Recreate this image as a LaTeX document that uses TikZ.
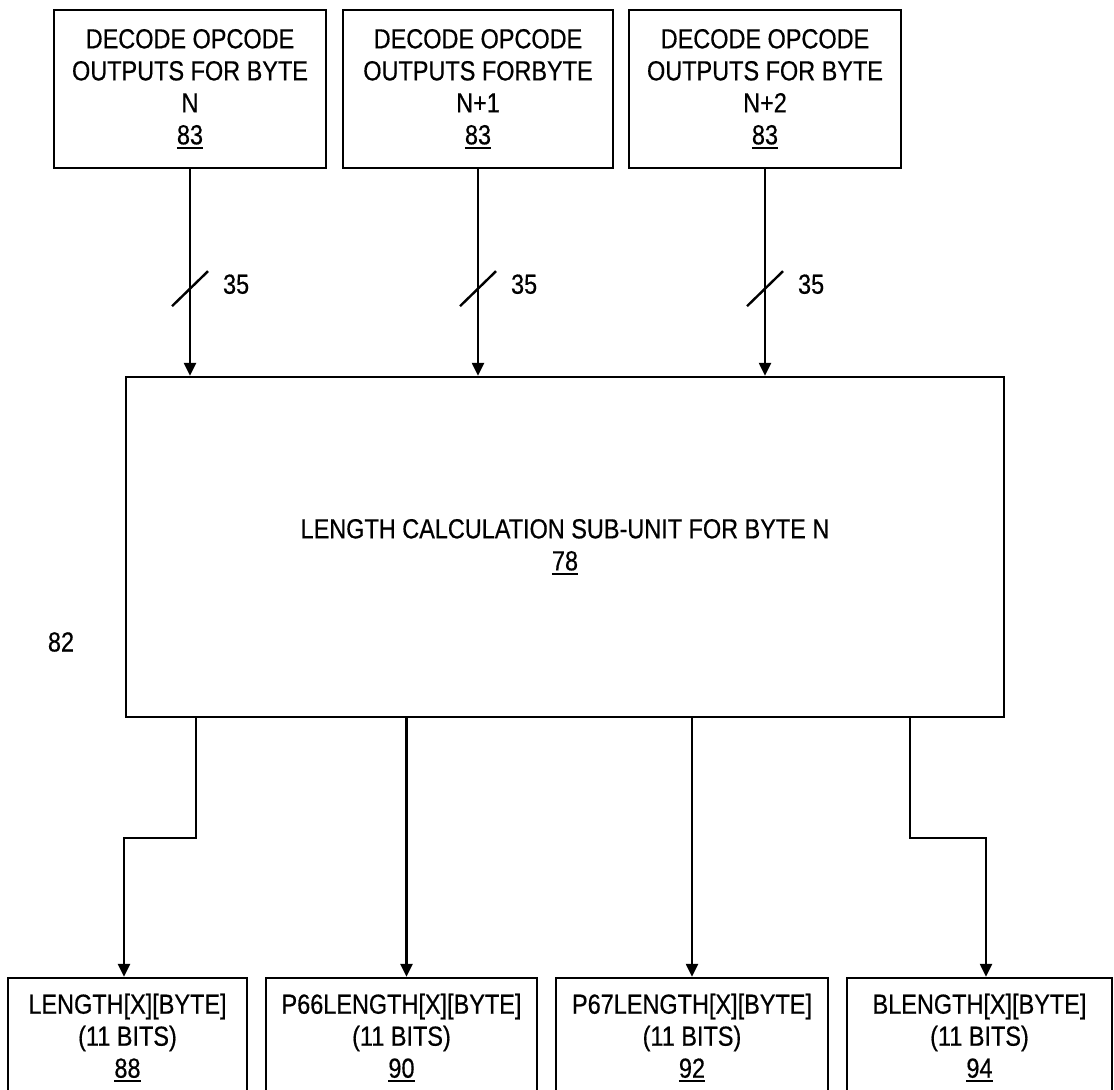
\documentclass[tikz,border=0pt]{standalone}
\usepackage{fontspec}
\setmainfont{Liberation Sans}[FakeStretch=0.85, FakeBold=0.5]
\usetikzlibrary{arrows.meta,positioning}
\newcommand{\refnum}[1]{\setbox0\hbox{#1}\leavevmode\rlap{\rule[-2.3pt]{\wd0}{1.2pt}}\box0}

\begin{document}
\begin{tikzpicture}[
    x=0.5pt, y=-0.5pt,
    font=\fontsize{13.8}{16}\selectfont,
    blk/.style={rectangle, draw, line width=1.2pt, align=center, inner sep=0pt},
    decbox/.style={blk, minimum width=136pt, minimum height=79pt},
    outbox/.style={blk, minimum height=60pt},
    arr/.style={-{Triangle[length=6.5pt, width=6pt]}, line width=1.2pt},
    wire/.style={line width=1.2pt}
  ]
  \useasboundingbox (0,0) rectangle (1114,1090);
  % Decode opcode inputs
  \node[decbox] (dec0) at (190,89) {DECODE OPCODE\\OUTPUTS FOR BYTE\\N\\\refnum{83}};
  \node[decbox, minimum width=135pt] (dec1) at (478,89) {DECODE OPCODE\\OUTPUTS FORBYTE\\N+1\\\refnum{83}};
  \node[decbox] (dec2) at (765,89) {DECODE OPCODE\\OUTPUTS FOR BYTE\\N+2\\\refnum{83}};
  % Length calculation sub-unit
  \node[blk, minimum width=439pt, minimum height=170pt] (calc) at (565,547)
    {LENGTH CALCULATION SUB-UNIT FOR BYTE N\\\refnum{78}};
  \node (lbl82) at (61,642) {82};
  % Outputs
  \node[outbox, minimum width=119.5pt] (len)  at (127.5,1038) {LENGTH[X][BYTE]\\(11 BITS)\\\refnum{88}};
  \node[outbox, minimum width=135.5pt] (p66)  at (401.5,1038) {P66LENGTH[X][BYTE]\\(11 BITS)\\\refnum{90}};
  \node[outbox, minimum width=136pt]   (p67)  at (692,1038) {P67LENGTH[X][BYTE]\\(11 BITS)\\\refnum{92}};
  \node[outbox, minimum width=132.5pt] (blen) at (979.5,1038) {BLENGTH[X][BYTE]\\(11 BITS)\\\refnum{94}};
  % 35-bit buses
  \foreach \b in {dec0,dec1,dec2} {
    \draw[arr] (\b.south) -- (\b.south |- calc.north);
    \draw[wire] ([shift={(-18,137)}]\b.south) -- ++(36,-35);
    \node[right] (bus\b) at ([shift={(26,115)}]\b.south) {35};
  }
  % Output connectors
  \coordinate (k1) at (196,838);
  \coordinate (k4) at (910,838);
  \draw[arr] (calc.south -| k1) -- (k1) -| ([xshift=-1.75pt]len.north);
  \draw[arr] ([xshift=2.5pt]calc.south -| p66.north) -- ([xshift=2.5pt]p66.north);
  \draw[arr] (calc.south -| p67.north) -- (p67.north);
  \draw[arr] (calc.south -| k4) -- (k4) -| ([xshift=3.25pt]blen.north);
\end{tikzpicture}
\end{document}
